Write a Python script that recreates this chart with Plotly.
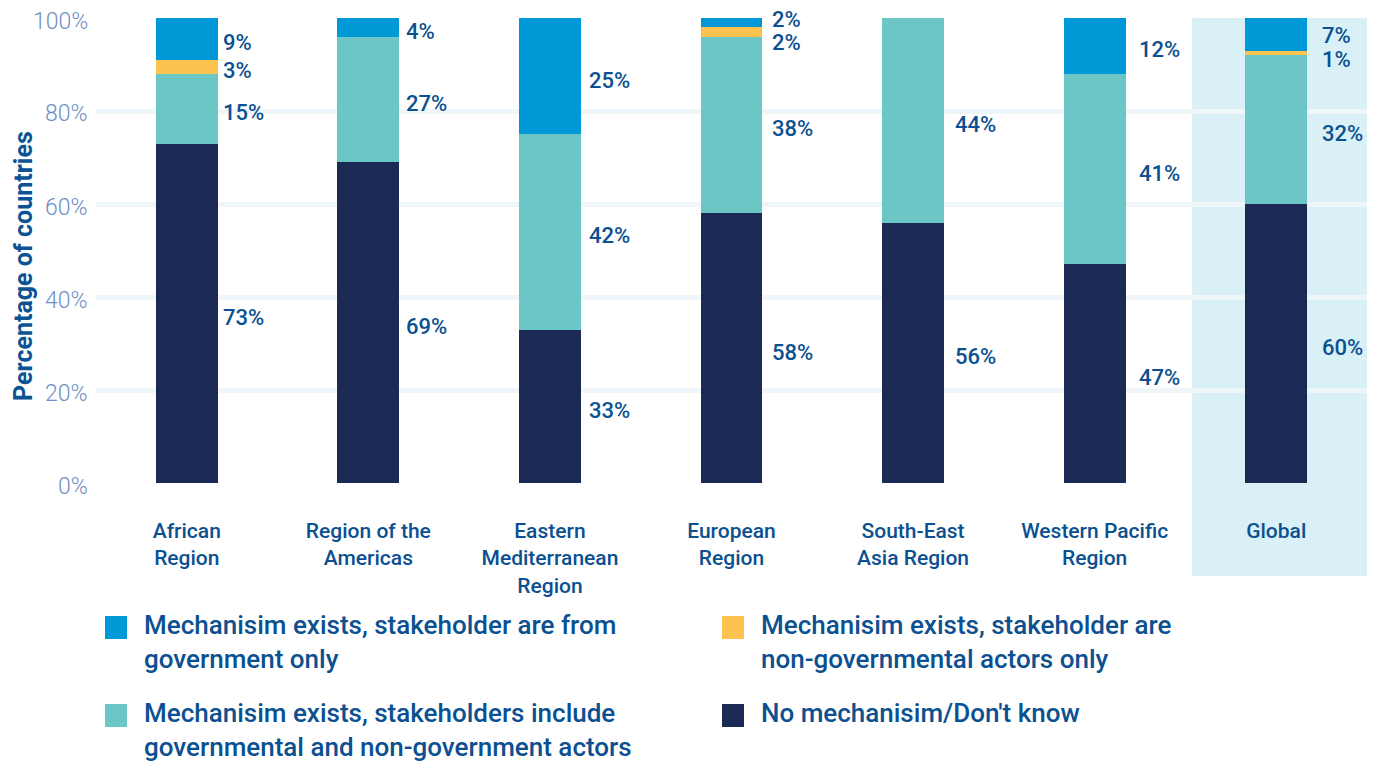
import plotly.graph_objects as go

# ---------------- data ----------------
categories = [
    "African<br>Region",
    "Region of the<br>Americas",
    "Eastern<br>Mediterranean<br>Region",
    "European<br>Region",
    "South-East<br>Asia Region",
    "Western Pacific<br>Region",
    "Global",
]

# stacked bottom -> top
no_mechanism = [73, 69, 33, 58, 56, 47, 60]
gov_and_nongov = [15, 27, 42, 38, 44, 41, 32]
nongov_only = [3, 0, 0, 2, 0, 0, 1]
gov_only = [9, 4, 25, 2, 0, 12, 7]

series_names = [
    "No mechanisim/Don't know",
    "Mechanisim exists, stakeholders include<br>governmental and non-government actors",
    "Mechanisim exists, stakeholder are<br>non-governmental actors only",
    "Mechanisim exists, stakeholder are from<br>government only",
]
series_colors = ["#1b2955", "#6cc6c6", "#fec24f", "#0099d7"]

y_tick_vals = [0, 20, 40, 60, 80, 100]
y_tick_text = ["0%", "20%", "40%", "60%", "80%", "100%"]
y_title = "Percentage of countries"

# ---------------- layout constants ----------------
# page body has an 8px margin, so the figure is sized/offset to compensate
PAGE_OFF = 8
W, H = 1375 - PAGE_OFF, 762 - PAGE_OFF
PL, PR, PT, PB = 96, 1367, 18, 483          # plot area in window pixels
ML, MR, MT, MB = PL - PAGE_OFF, (W + PAGE_OFF) - PR, PT - PAGE_OFF, 762 - PB
PW, PH = PR - PL, PB - PT
TEXT_BLUE = "#0b5090"
FONT = "Roboto"
BAR_W = 0.34
Y_MAX = 100


def px_x(p):
    return (p - PL) / PW


def px_y(p):
    return (PB - p) / PH


series_values = [no_mechanism, gov_and_nongov, nongov_only, gov_only]

fig = go.Figure()
for name, vals, col in zip(series_names, series_values, series_colors):
    fig.add_trace(go.Bar(
        x=categories, y=vals, name=name, width=BAR_W,
        marker=dict(color=col, line=dict(width=0)),
        showlegend=False, hoverinfo="skip",
    ))

annotations = []
# value labels to the right of each bar: segment centres, crowded pairs spread apart
GAP = 5.0
for i, cat in enumerate(categories):
    base = 0
    labels = []
    for vals in series_values:
        v = vals[i]
        if v > 0:
            y = base + v / 2
            if labels and y - labels[-1][1] < GAP:
                mid = (y + labels[-1][1]) / 2
                labels[-1][1] = mid - GAP / 2
                y = mid + GAP / 2
            labels.append([v, y])
        base += v
    for v, y in labels:
        annotations.append(dict(
            x=i + BAR_W / 2, y=y / Y_MAX, xref="x", yref="paper",
            text=f"{v}%", showarrow=False, xanchor="left", yanchor="middle",
            xshift=3.5 + 1.5 * i, yshift=-4,
            font=dict(family=FONT, size=22, color=TEXT_BLUE, weight=500),
        ))

# y tick labels (drawn as text so they can sit slightly below their gridline)
for v, t in zip(y_tick_vals, y_tick_text):
    annotations.append(dict(
        x=0, y=v / Y_MAX, xref="paper", yref="paper", text=t, showarrow=False,
        xanchor="right", yanchor="middle", xshift=-7, yshift=-3, borderpad=0,
        font=dict(family=FONT, size=23, color="#6f8fc4", weight=300),
    ))

# y axis title
annotations.append(dict(
    x=px_x(23), y=px_y(266), xref="paper", yref="paper", text=y_title,
    textangle=-90, showarrow=False, xanchor="center", yanchor="middle",
    borderpad=0,
    font=dict(family=FONT, size=25, color="#0b5394", weight=700),
))

shapes = [
    # highlighted "Global" band
    dict(type="rect", xref="x", yref="paper", x0=len(categories) - 1.463,
         x1=len(categories) - 0.5, y0=px_y(576), y1=1.0,
         fillcolor="#d9f0f6", line=dict(width=0), layer="below"),
]

# manual legend (2 x 2 grid)
legend_order = [3, 2, 1, 0]           # series index per grid slot
col_x = [105, 722]
row_y = [616, 704]
for slot, si in enumerate(legend_order):
    cx = col_x[slot % 2]
    ry = row_y[slot // 2]
    shapes.append(dict(type="rect", xref="paper", yref="paper",
                       x0=px_x(cx), x1=px_x(cx + 22), y0=px_y(ry), y1=px_y(ry + 23),
                       fillcolor=series_colors[si], line=dict(width=0)))
    annotations.append(dict(
        x=px_x(cx + 38), y=px_y(ry - 7), xref="paper", yref="paper",
        text=series_names[si], showarrow=False, xanchor="left", yanchor="top",
        align="left", borderpad=0,
        font=dict(family=FONT, size=26, color=TEXT_BLUE, weight=500),
    ))

fig.update_layout(
    width=W, height=H,
    margin=dict(l=ML, r=MR, t=MT, b=MB, autoexpand=False),
    barmode="stack",
    plot_bgcolor="white", paper_bgcolor="white",
    font=dict(family=FONT, color=TEXT_BLUE),
    annotations=annotations, shapes=shapes,
    showlegend=False,
    xaxis=dict(
        range=[-0.5, len(categories) - 0.5], showgrid=False, zeroline=False,
        showline=False, ticks="", ticklabelstandoff=33,
        tickfont=dict(family=FONT, size=21, color=TEXT_BLUE, weight=500),
    ),
    yaxis=dict(
        range=[0, Y_MAX], tickmode="array", tickvals=y_tick_vals,
        showticklabels=False,
        showgrid=True, gridcolor="#eef6fa", gridwidth=5,
        zeroline=False, showline=False, ticks="",
    ),
)

fig.write_html("out.html")
